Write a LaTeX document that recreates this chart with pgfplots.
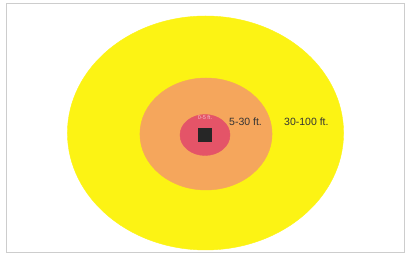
\documentclass[border=0pt]{standalone}
\usepackage{pgfplots}
\pgfplotsset{compat=1.18}
\usepackage{fontspec}
\setmainfont{Liberation Sans}
\definecolor{zyellow}{RGB}{252,243,20}
\definecolor{zorange}{RGB}{245,166,92}
\definecolor{zred}{RGB}{228,84,104}
\definecolor{zframe}{RGB}{205,205,205}
\begin{document}
\begin{tikzpicture}
\begin{axis}[
  scale only axis, width=409pt, height=256pt,
  xmin=0, xmax=409, ymin=0, ymax=256,
  axis lines=none, clip=false, set layers,
]
% page extent
\addplot[draw=none, mark=none] coordinates {(0,0) (409,256)};
% frame
\addplot[draw=zframe, line width=0.8pt, mark=none] coordinates {(6,4) (404,4) (404,253) (6,253) (6,4)};
% zones (centre, half-height as mark size, width ratio as xscale)
\addplot[only marks, draw=zyellow, fill=zyellow, mark=*, mark size=117pt, mark options={xscale=1.18}] coordinates {(205.5,123)};
\addplot[only marks, draw=zorange, fill=zorange, mark=*, mark size=56pt, mark options={xscale=1.18}] coordinates {(206,122)};
\addplot[only marks, draw=zred, fill=zred, mark=*, mark size=20.5pt, mark options={xscale=1.22}] coordinates {(205,121)};
\addplot[only marks, draw=black!85, fill=black!85, mark=square*, mark size=6.5pt] coordinates {(204.5,121)};
\begin{pgfonlayer}{axis foreground}
\node[font=\fontsize{5.5}{6}\selectfont, text=zred!35!white] at (axis cs:205,138) {0-5 ft.};
\node[font=\fontsize{10.5}{12}\selectfont, text=black!80, anchor=west, inner sep=0pt] at (axis cs:229,134) {5-30 ft.};
\node[font=\fontsize{10.5}{12}\selectfont, text=black!80, anchor=west, inner sep=0pt] at (axis cs:284,134) {30-100 ft.};
\end{pgfonlayer}
\end{axis}
\end{tikzpicture}
\end{document}
